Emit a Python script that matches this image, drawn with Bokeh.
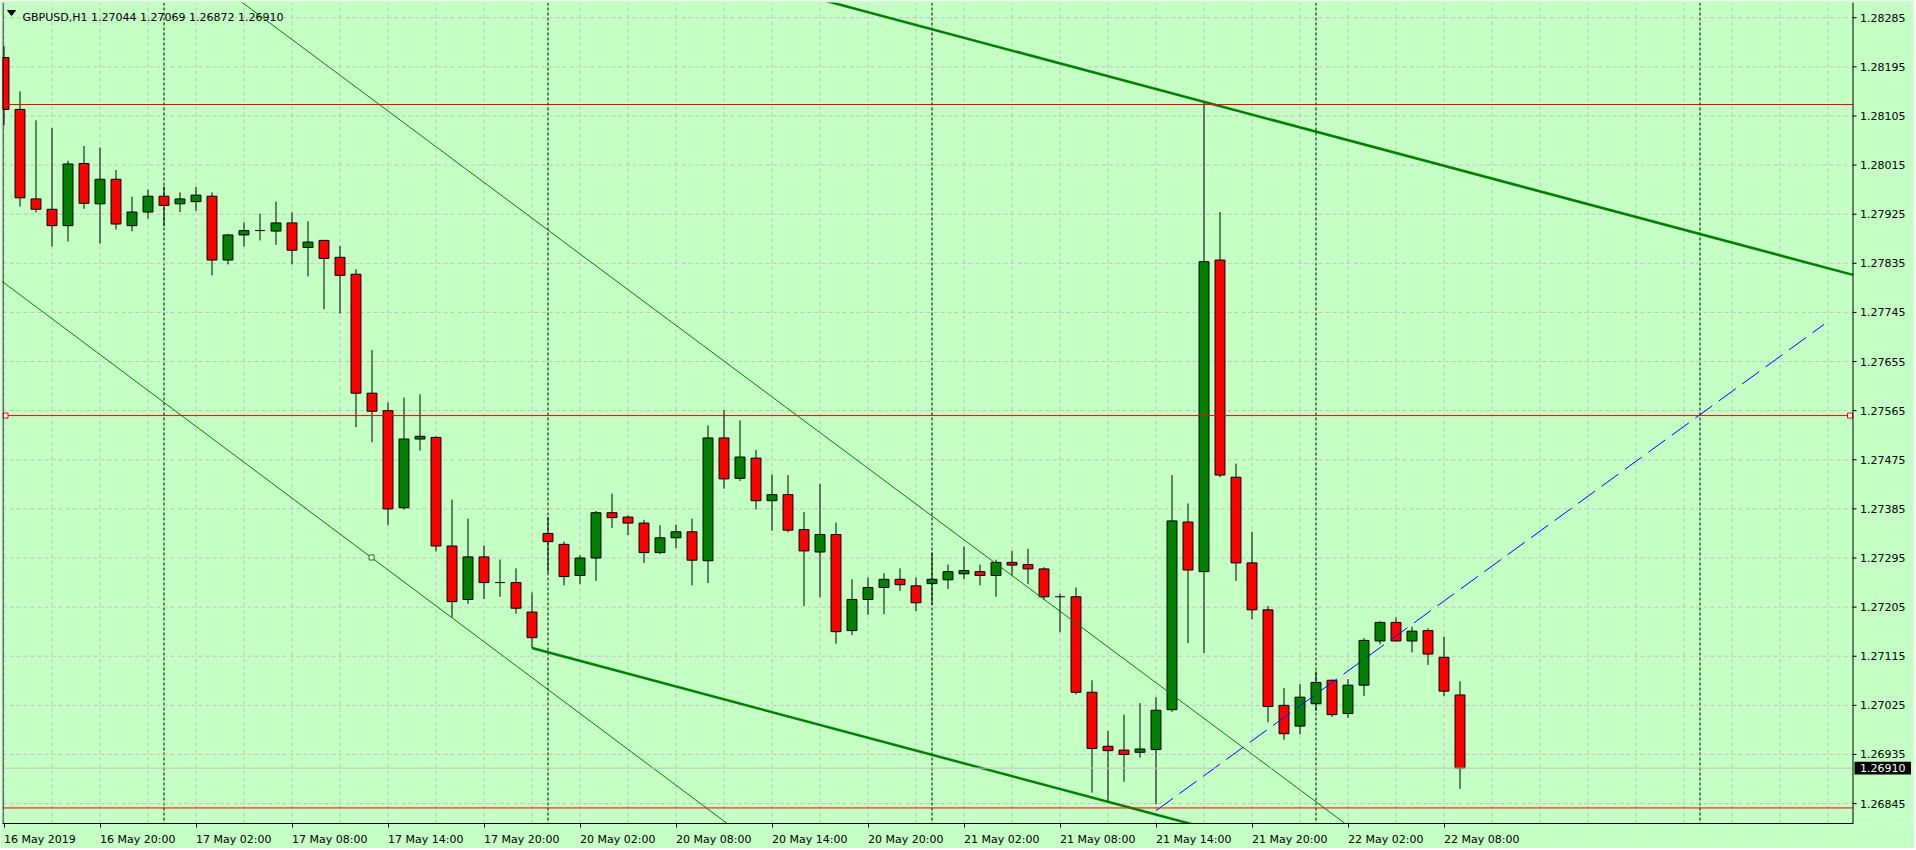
from bokeh.plotting import figure
from bokeh.models import (Range1d, FixedTicker, CustomJSTickFormatter, Span, Label, ColumnDataSource)
from bokeh.core.properties import value
from bokeh.embed import file_html
from bokeh.resources import INLINE

# ---------------- data (GBPUSD, H1, first bar = 16 May 2019 14:00) ----------------
opens = [1.28212, 1.28117, 1.27953, 1.27934, 1.27904, 1.28018, 1.27944, 1.27989, 1.27904, 1.27929,
         1.27958, 1.27944, 1.27948, 1.27958, 1.27841, 1.27887, 1.27895, 1.27894, 1.27909, 1.27864,
         1.27877, 1.27846, 1.27815, 1.27597, 1.27565, 1.27387, 1.27513, 1.27516, 1.27317, 1.27219,
         1.27297, 1.27250, 1.27250, 1.27196, 1.27340, 1.27320, 1.27263, 1.27295, 1.27378, 1.27370,
         1.27359, 1.27305, 1.27332, 1.27343, 1.27290, 1.27515, 1.27441, 1.27478, 1.27400, 1.27411,
         1.27347, 1.27306, 1.27338, 1.27162, 1.27219, 1.27241, 1.27256, 1.27244, 1.27248, 1.27255,
         1.27266, 1.27270, 1.27263, 1.27287, 1.27283, 1.27275, 1.27224, 1.27224, 1.27049, 1.26950,
         1.26943, 1.26939, 1.26944, 1.27017, 1.27361, 1.27270, 1.27841, 1.27443, 1.27286, 1.27200,
         1.27025, 1.26987, 1.27028, 1.27071, 1.27010, 1.27062, 1.27143, 1.27177, 1.27143, 1.27162,
         1.27113, 1.27044]
highs = [1.28233, 1.28150, 1.28097, 1.28083, 1.28023, 1.28050, 1.28047, 1.28006, 1.27957, 1.27970,
         1.27976, 1.27965, 1.27975, 1.27965, 1.27889, 1.27910, 1.27926, 1.27948, 1.27928, 1.27912,
         1.27878, 1.27867, 1.27824, 1.27676, 1.27580, 1.27589, 1.27595, 1.27518, 1.27402, 1.27367,
         1.27318, 1.27292, 1.27276, 1.27232, 1.27370, 1.27325, 1.27300, 1.27381, 1.27413, 1.27373,
         1.27365, 1.27355, 1.27356, 1.27367, 1.27538, 1.27566, 1.27547, 1.27493, 1.27448, 1.27447,
         1.27379, 1.27431, 1.27360, 1.27256, 1.27259, 1.27267, 1.27276, 1.27259, 1.27305, 1.27283,
         1.27316, 1.27283, 1.27292, 1.27308, 1.27312, 1.27278, 1.27230, 1.27241, 1.27071, 1.26978,
         1.27008, 1.27029, 1.27040, 1.27447, 1.27395, 1.28131, 1.27929, 1.27468, 1.27343, 1.27207,
         1.27057, 1.27064, 1.27087, 1.27072, 1.27073, 1.27148, 1.27179, 1.27186, 1.27169, 1.27166,
         1.27151, 1.27069]
lows = [1.28088, 1.27939, 1.27928, 1.27866, 1.27875, 1.27935, 1.27871, 1.27897, 1.27894, 1.27917,
        1.27903, 1.27929, 1.27931, 1.27813, 1.27833, 1.27866, 1.27877, 1.27869, 1.27833, 1.27811,
        1.27751, 1.27743, 1.27535, 1.27507, 1.27355, 1.27384, 1.27492, 1.27307, 1.27186, 1.27211,
        1.27220, 1.27224, 1.27193, 1.27130, 1.27268, 1.27245, 1.27247, 1.27253, 1.27350, 1.27337,
        1.27286, 1.27302, 1.27313, 1.27245, 1.27249, 1.27422, 1.27436, 1.27384, 1.27345, 1.27342,
        1.27207, 1.27223, 1.27138, 1.27154, 1.27191, 1.27192, 1.27235, 1.27198, 1.27209, 1.27238,
        1.27256, 1.27245, 1.27224, 1.27263, 1.27247, 1.27219, 1.27159, 1.27045, 1.26865, 1.26847,
        1.26885, 1.26929, 1.26844, 1.27013, 1.27139, 1.27121, 1.27443, 1.27253, 1.27183, 1.26994,
        1.26962, 1.26972, 1.27015, 1.27004, 1.27002, 1.27042, 1.27137, 1.27142, 1.27122, 1.27099,
        1.27042, 1.26872]
closes = [1.28117, 1.27955, 1.27934, 1.27904, 1.28017, 1.27945, 1.27989, 1.27907, 1.27929, 1.27958,
          1.27941, 1.27953, 1.27960, 1.27841, 1.27887, 1.27895, 1.27895, 1.27909, 1.27859, 1.27874,
          1.27844, 1.27813, 1.27597, 1.27564, 1.27385, 1.27513, 1.27518, 1.27317, 1.27215, 1.27297,
          1.27250, 1.27250, 1.27203, 1.27149, 1.27325, 1.27261, 1.27295, 1.27378, 1.27369, 1.27359,
          1.27305, 1.27332, 1.27343, 1.27291, 1.27515, 1.27440, 1.27480, 1.27400, 1.27411, 1.27346,
          1.27308, 1.27338, 1.27160, 1.27219, 1.27241, 1.27256, 1.27246, 1.27213, 1.27256, 1.27270,
          1.27272, 1.27263, 1.27287, 1.27282, 1.27275, 1.27224, 1.27224, 1.27049, 1.26946, 1.26942,
          1.26935, 1.26945, 1.27016, 1.27363, 1.27273, 1.27838, 1.27447, 1.27286, 1.27200, 1.27023,
          1.26973, 1.27040, 1.27067, 1.27008, 1.27062, 1.27144, 1.27177, 1.27143, 1.27161, 1.27119,
          1.27051, 1.26910]

time_labels = ["16 May 2019", "16 May 20:00", "17 May 02:00", "17 May 08:00", "17 May 14:00",
               "17 May 20:00", "20 May 02:00", "20 May 08:00", "20 May 14:00", "20 May 20:00",
               "21 May 02:00", "21 May 08:00", "21 May 14:00", "21 May 20:00", "22 May 02:00",
               "22 May 08:00"]
time_label_bars = [0, 6, 12, 18, 24, 30, 36, 42, 48, 54, 60, 66, 72, 78, 84, 90]
day_separator_bars = [10, 34, 58, 82, 106]
grid_bars = list(range(0, 117, 3))
price_ticks = [1.28285, 1.28195, 1.28105, 1.28015, 1.27925, 1.27835, 1.27745, 1.27655, 1.27565,
               1.27475, 1.27385, 1.27295, 1.27205, 1.27115, 1.27025, 1.26935, 1.26845]
price_tick_labels = ["1.28285", "1.28195", "1.28105", "1.28015", "1.27925", "1.27835", "1.27745",
                     "1.27655", "1.27565", "1.27475", "1.27385", "1.27295", "1.27205", "1.27115",
                     "1.27025", "1.26935", "1.26845"]

title_text = "GBPUSD,H1  1.27044 1.27069 1.26872 1.26910"
bid_price = 1.26910
bid_label = "1.26910"

# horizontal lines
red_levels = [1.28126, 1.27556, 1.26837]
selected_level = 1.27556
# trend lines: two anchor points (bar, price) each
thin_upper = [(14.98, 1.28311), (72.71, 1.27051)]
thin_lower = [(8.04, 1.27623), (33.04, 1.27075)]
thick_upper = [(75.0, 1.28131), (115.54, 1.27814)]
thick_lower = [(33.0, 1.27130), (73.0, 1.26817)]
blue_line = [(72.0, 1.26832), (113.75, 1.27723)]
thin_marker = (22.97, 1.27296)

# ---------------- layout ----------------
BG = "#C4FFC4"
FONT = "DejaVu Sans"
PX_PER_BAR = 16.0
FRAME_W, FRAME_H = 1910, 824
x_start = -1.5 / PX_PER_BAR
x_end = x_start + FRAME_W / PX_PER_BAR
y_end = 1.2831293
y_start = 1.268085
PX_PER_PRICE = FRAME_H / (y_end - y_start)


def sx2x(sx):  # frame pixel -> bar coordinate
    return x_start + sx / PX_PER_BAR


def sy2y(sy):  # frame pixel (from top) -> price
    return y_end - sy / PX_PER_PRICE


x_border = sx2x(1850.5)      # right edge of the chart area (price scale starts here)
x_left = sx2x(0.5)

p = figure(width=1914, height=848, x_range=Range1d(x_start, x_end), y_range=Range1d(y_start, y_end),
           toolbar_location=None, output_backend="svg", tools="",
           min_border_left=2, min_border_top=2, min_border_right=2, min_border_bottom=22)
p.background_fill_color = BG
p.border_fill_color = BG
p.outline_line_color = None
p.yaxis.visible = False
p.xgrid.visible = False
p.ygrid.visible = False

# time axis
label_shift = [2.24] + [2.36] * (len(time_labels) - 1)
label_pos = [b + s for b, s in zip(time_label_bars, label_shift)]
xa = p.xaxis[0]
xa.bounds = (x_start, x_border)
xa.ticker = FixedTicker(ticks=label_pos, minor_ticks=time_label_bars)
xa.formatter = CustomJSTickFormatter(args=dict(labels=time_labels), code="return labels[index];")
xa.major_tick_out = 0
xa.major_tick_in = 0
xa.major_tick_line_color = None
xa.minor_tick_out = 4
xa.minor_tick_in = 0
xa.minor_tick_line_color = "black"
xa.major_label_standoff = 5
xa.major_label_text_font = FONT
xa.major_label_text_font_size = "11px"
xa.major_label_text_color = "black"
xa.axis_line_color = "black"

# grid (only inside the chart area)
GRID = "#C8BCC8"
p.segment(x0=[x_start] * len(price_ticks), x1=[x_border] * len(price_ticks), y0=price_ticks,
          y1=price_ticks, line_color=GRID, line_dash="4 3", line_width=1)
p.segment(x0=grid_bars, x1=grid_bars, y0=[y_start] * len(grid_bars), y1=[y_end] * len(grid_bars),
          line_color=GRID, line_dash="4 3", line_width=1)

for b in day_separator_bars:
    p.add_layout(Span(location=b, dimension="height", line_color="black", line_dash="3 2",
                      line_width=1, level="underlay"))

# borders
p.add_layout(Span(location=x_border, dimension="height", line_color="black", line_width=1))
p.add_layout(Span(location=x_left, dimension="height", line_color="black", line_width=1))

# price scale (ticks + labels) to the right of the border
p.segment(x0=[x_border] * len(price_ticks), x1=[x_border + 3.5 / PX_PER_BAR] * len(price_ticks),
          y0=price_ticks, y1=price_ticks, line_color="black", line_width=1)
p.text(x=[x_border + 7 / PX_PER_BAR] * len(price_ticks), y=price_ticks, text=price_tick_labels,
       text_font=value(FONT), text_font_size="11px", text_color="black",
       text_align="left", text_baseline="middle")

# candles
xs = list(range(len(opens)))
src = ColumnDataSource(dict(x=xs, o=opens, h=highs, l=lows, c=closes))
p.segment(x0="x", y0="l", x1="x", y1="h", source=src, line_color="black", line_width=1)

bull = [i for i in xs if closes[i] > opens[i]]
bear = [i for i in xs if closes[i] < opens[i]]
doji = [i for i in xs if closes[i] == opens[i]]
BODY_W = 0.62
p.vbar(x=bull, top=[closes[i] for i in bull], bottom=[opens[i] for i in bull],
       width=BODY_W, fill_color="#008000", line_color="black", line_width=1)
p.vbar(x=bear, top=[opens[i] for i in bear], bottom=[closes[i] for i in bear],
       width=BODY_W, fill_color="#FF0000", line_color="black", line_width=1)
p.segment(x0=[i - BODY_W / 2 for i in doji], x1=[i + BODY_W / 2 for i in doji],
          y0=[opens[i] for i in doji], y1=[opens[i] for i in doji], line_color="black", line_width=1)


def extend(pts, xa_, xb_):
    (x0, y0), (x1, y1) = pts
    s = (y1 - y0) / (x1 - x0)
    return [xa_, xb_], [y0 + s * (xa_ - x0), y0 + s * (xb_ - x0)]


for pts in (thin_upper, thin_lower):
    lx, ly = extend(pts, -10, 100)
    p.line(lx, ly, line_color="#008000", line_width=1)
lx, ly = extend(thick_upper, 40, x_border)
p.line(lx, ly, line_color="#008000", line_width=2.5)
lx, ly = extend(thick_lower, thick_lower[0][0], 100)
p.line(lx, ly, line_color="#008000", line_width=2.5)
p.line([blue_line[0][0], blue_line[1][0]], [blue_line[0][1], blue_line[1][1]],
       line_color="#0000FF", line_width=1, line_dash="21 8")

# horizontal lines (stop at the chart border)
p.segment(x0=[x_start] * len(red_levels), x1=[x_border] * len(red_levels), y0=red_levels,
          y1=red_levels, line_color="#FF0000", line_width=1)
p.segment(x0=[x_start], x1=[x_border], y0=[bid_price], y1=[bid_price], line_color="#C0C0C0",
          line_width=1)

p.scatter([sx2x(3), sx2x(1847.5)], [selected_level, selected_level], marker="square", size=5,
          line_color="#FF0000", fill_color="white", line_width=1)
p.scatter([thin_marker[0]], [thin_marker[1]], marker="square", size=5,
          line_color="#008000", fill_color="white", line_width=1)

# current price box on the price scale
half_h = 6.5 / PX_PER_PRICE
p.quad(left=[x_border + 1.5 / PX_PER_BAR], right=[x_border + 58 / PX_PER_BAR],
       bottom=[bid_price - half_h], top=[bid_price + half_h], fill_color="black", line_color=None)
p.text(x=[x_border + 7 / PX_PER_BAR], y=[bid_price], text=[bid_label], text_font=value(FONT),
       text_font_size="11px", text_color="white", text_align="left", text_baseline="middle")

# header
p.patch([sx2x(5), sx2x(13), sx2x(9)], [sy2y(8), sy2y(8), sy2y(13)], fill_color="black",
        line_color="black", line_width=1)
p.add_layout(Label(x=sx2x(20), y=sy2y(15.3), text=title_text, text_font=FONT,
                   text_font_size="11px", text_color="black", text_align="left",
                   text_baseline="alphabetic"))

open("out.html", "w").write(file_html(p, INLINE))
